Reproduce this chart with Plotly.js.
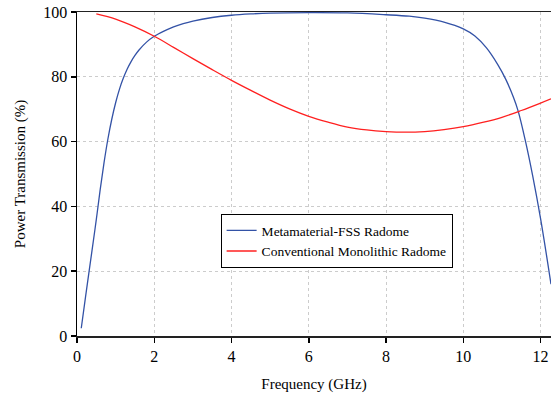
<!DOCTYPE html>
<html>
<head>
<meta charset="utf-8">
<script src="https://cdn.plot.ly/plotly-3.0.1.min.js"></script>
<style>html,body{margin:0;padding:0;background:#fff;}#chart{width:551px;height:398px;}</style>
</head>
<body>
<div id="chart"></div>
<script>
const seriesNames = ["Metamaterial-FSS Radome", "Conventional Monolithic Radome"];
const fssFreq = [0.11,0.22,0.39,0.5,0.6,0.7,0.8,0.9,1.0,1.1,1.2,1.3,1.4,1.5,1.6,1.8,2.0,2.25,2.5,2.75,3.0,3.5,4.0,4.5,5.0,6.0,7.0,8.0,8.6,9.0,9.5,10.0,10.3,10.6,10.9,11.1,11.3,11.42,11.6,11.8,12.0,12.27];
const fssVals = [2.4,12.0,26.5,36.0,45.2,53.5,60.8,66.9,72.0,76.2,79.6,82.4,84.7,86.6,88.2,90.7,92.5,94.1,95.4,96.4,97.2,98.3,99.0,99.4,99.65,99.8,99.7,99.15,98.7,98.1,96.9,94.8,92.6,88.9,83.6,79.2,73.6,69.4,60.6,49.2,36.2,16.0];
const monoFreq = [0.5,1,1.5,2,2.5,3,3.5,4,4.5,5,5.5,6,6.5,7,7.5,8,8.5,9,9.5,10,10.5,11,11.5,12,12.27];
const monoVals = [99.4,97.8,95.4,92.5,89.1,85.6,82.2,78.9,75.8,72.8,70.1,67.8,66.0,64.5,63.6,63.1,62.9,63.1,63.7,64.6,65.9,67.5,69.6,71.9,73.2];
const xTicks = [0,2,4,6,8,10,12];
const yTicks = [0,20,40,60,80,100];

const font = "Liberation Serif";
const traces = [
  {x: fssFreq, y: fssVals, name: seriesNames[0], mode: "lines",
   line: {color: "#3352a6", width: 1.3, shape: "spline", smoothing: 1}},
  {x: monoFreq, y: monoVals, name: seriesNames[1], mode: "lines",
   line: {color: "#ff2020", width: 1.3, shape: "spline", smoothing: 1}}
];
const layout = {
  width: 551, height: 398,
  margin: {l: 77, r: 0, t: 12, b: 62},
  paper_bgcolor: "#fff", plot_bgcolor: "#fff",
  font: {family: font, color: "#000", size: 15},
  showlegend: true,
  legend: {x: 0.303, y: 0.376, xanchor: "left", yanchor: "top",
    bordercolor: "#000", borderwidth: 1, bgcolor: "#fff",
    font: {family: font, size: 13.5, color: "#000"}, tracegroupgap: 0},
  xaxis: {range: [0, 12.27], tickvals: xTicks, ticks: "outside", ticklen: 5, tickwidth: 1.5,
    tickcolor: "#000", showline: true, linecolor: "#222", linewidth: 1.5, mirror: true,
    showgrid: true, gridcolor: "#cccccc", griddash: "dot", gridwidth: 1, zeroline: false,
    tickfont: {family: font, size: 16},
    title: {text: "Frequency (GHz)", font: {family: font, size: 15}, standoff: 15}},
  yaxis: {range: [0, 100], tickvals: yTicks, ticks: "outside", ticklen: 5, tickwidth: 1.5,
    tickcolor: "#000", showline: true, linecolor: "#000", linewidth: 1.5,
    showgrid: true, gridcolor: "#cccccc", griddash: "dot", gridwidth: 1, zeroline: false,
    tickfont: {family: font, size: 16},
    title: {text: "Power Transmission (%)", font: {family: font, size: 15}, standoff: 14}}
};
Plotly.newPlot("chart", traces, layout, {displayModeBar: false, staticPlot: true});
</script>
</body>
</html>
